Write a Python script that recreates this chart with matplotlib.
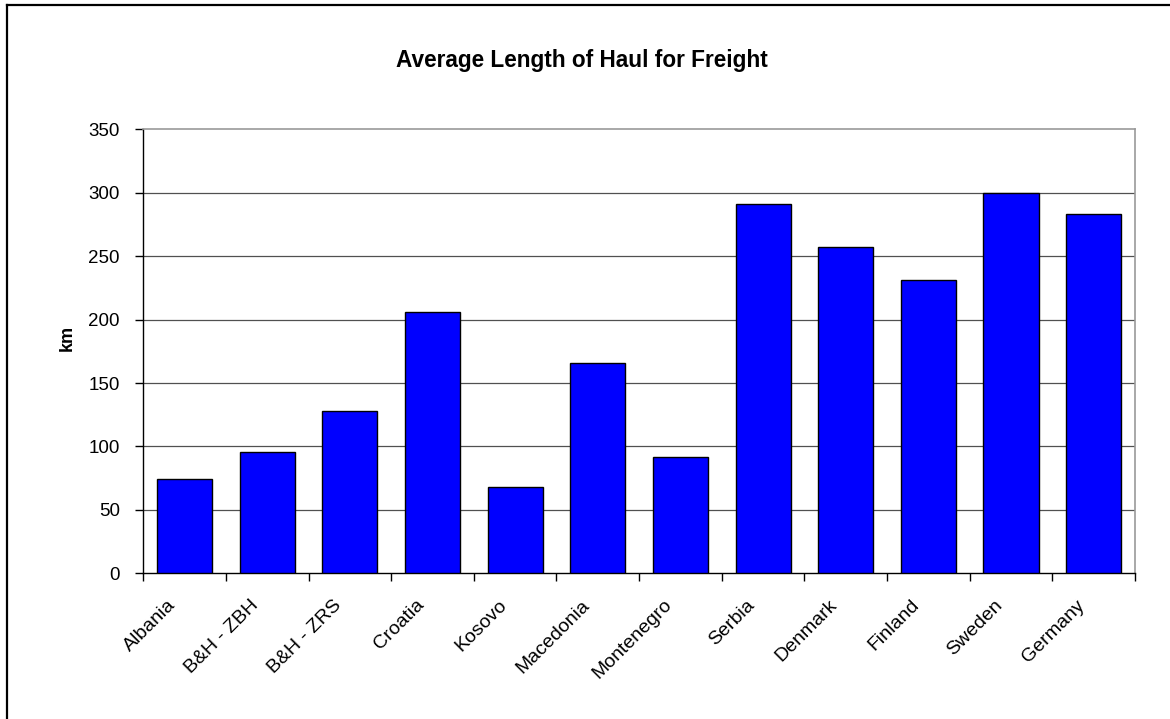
import numpy as np
import matplotlib
matplotlib.use("Agg")
import matplotlib.pyplot as plt
import matplotlib.transforms as mtransforms
from matplotlib.lines import Line2D

plt.rcParams["font.family"] = ["Liberation Sans", "DejaVu Sans"]

countries = ["Albania", "B&H - ZBH", "B&H - ZRS", "Croatia", "Kosovo", "Macedonia",
             "Montenegro", "Serbia", "Denmark", "Finland", "Sweden", "Germany"]
haul_km = [74, 96, 128, 206, 68, 166, 92, 291, 257, 231, 300, 283]
y_ticks = [0, 50, 100, 150, 200, 250, 300, 350]

W, H = 1170, 719
fig = plt.figure(figsize=(W / 100, H / 100), dpi=100)
ax = fig.add_axes([0.1225, 0.2026, 0.8475, 0.6176])

x = np.arange(len(countries))
ax.bar(x, haul_km, width=0.667, color="#0000FF", edgecolor="black", linewidth=1.0, zorder=3)

ax.set_xlim(-0.5, len(countries) - 0.5)
ax.set_ylim(0, 350)
ax.set_yticks(y_ticks)
ax.tick_params(axis="y", direction="out", length=6, width=1, labelsize=13.5, pad=11)
for v in y_ticks[1:-1]:
    ax.axhline(v, color="#505050", linewidth=0.9, zorder=1)

# category labels at centers, tick marks between categories
ax.set_xticks(x)
ax.set_xticklabels(countries, rotation=45, ha="right", va="center",
                   rotation_mode="anchor", fontsize=14)
ax.tick_params(axis="x", which="major", length=0, pad=21)
shift = mtransforms.ScaledTranslation(-8 / 72, 0, fig.dpi_scale_trans)
for lbl in ax.get_xticklabels():
    lbl.set_transform(lbl.get_transform() + shift)
ax.set_xticks(np.arange(-0.5, len(countries)), minor=True)
ax.tick_params(axis="x", which="minor", direction="out", length=6, width=1)

for side in ["left", "bottom"]:
    ax.spines[side].set_color("black")
    ax.spines[side].set_linewidth(1.0)
for side in ["top", "right"]:
    ax.spines[side].set_color("#999999")
    ax.spines[side].set_linewidth(1.2)

fig.text(67 / W, 1 - 338 / H, "km", rotation=90, ha="center", va="center",
         fontsize=13, fontweight="bold")
fig.text(0.497, 1 - 67 / H, "Average Length of Haul for Freight",
         ha="center", va="baseline", fontsize=16.3, fontweight="bold")

# outer chart frame (left and top edges)
fig.add_artist(Line2D([7 / W, 7 / W], [0, 1 - 5 / H], transform=fig.transFigure,
                      color="black", linewidth=1.6))
fig.add_artist(Line2D([7 / W, 1], [1 - 5 / H, 1 - 5 / H], transform=fig.transFigure,
                      color="black", linewidth=1.6))

fig.savefig("out.png", dpi=100, facecolor="white")
